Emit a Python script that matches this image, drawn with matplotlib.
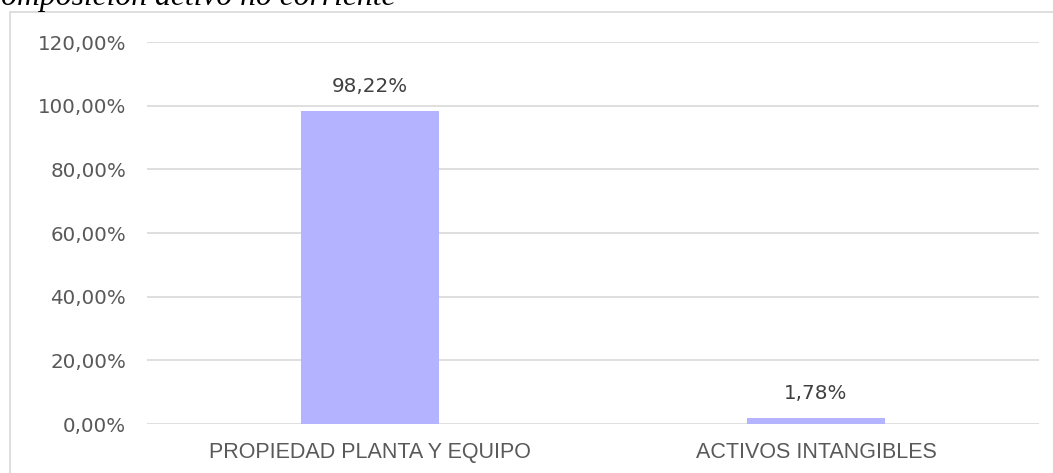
import matplotlib
matplotlib.use("Agg")
import matplotlib.pyplot as plt
from matplotlib.patches import Rectangle

categories = ["PROPIEDAD PLANTA Y EQUIPO", "ACTIVOS INTANGIBLES"]
values = [98.22, 1.78]
yticks = [0, 20, 40, 60, 80, 100, 120]
title = "Composición activo no corriente"

W, H = 1053, 473
fig = plt.figure(figsize=(W / 100, H / 100), dpi=100)
fig.patch.set_facecolor("white")

grid_c = "#D9D9D9"
text_c = "#595959"
bar_c = "#B3B3FF"
num_font = "DejaVu Sans"
cat_font = "Liberation Sans"

# outer chart border (only left and top visible)
fig.patches.append(Rectangle((9.5 / W, -0.5), 2, (1 - 12.5 / H) + 0.5,
                             transform=fig.transFigure, fill=False,
                             edgecolor=grid_c, linewidth=1.2))

ax = fig.add_axes([147 / W, 1 - 424 / H, (1039 - 147) / W, (424 - 42) / H])
x = range(len(categories))
ax.bar(x, values, width=0.31, color=bar_c, zorder=3)
ax.set_xlim(-0.5, len(categories) - 0.5)
ax.set_ylim(0, 120)
ax.set_yticks(yticks)
ax.set_yticklabels([f"{v:.2f}%".replace(".", ",") for v in yticks],
                   fontsize=14.3, color=text_c, family=num_font)
ax.set_xticks(list(x))
ax.set_xticklabels(categories, fontsize=15.5, color=text_c, family=cat_font)
ax.tick_params(axis="y", length=0, pad=15)
ax.tick_params(axis="x", length=0, pad=13)
for s in ax.spines.values():
    s.set_visible(False)
ax.yaxis.grid(True, color=grid_c, linewidth=1.2, zorder=0)
ax.set_axisbelow(True)

for xi, v in zip(x, values):
    ax.annotate(f"{v:.2f}%".replace(".", ","), (xi, v), xytext=(0, 18),
                textcoords="offset points", ha="center", va="center",
                fontsize=14.3, color="#404040", family=num_font)

# title, partly cut off at top-left
fs_t = 22.8
t = fig.text(0, 1 - 5 / H, title, fontsize=fs_t, style="italic",
             family="Liberation Serif", color="black", va="baseline", ha="left")
r = fig.canvas.get_renderer()
tc = fig.text(0, 0, "C", fontsize=fs_t, style="italic", family="Liberation Serif")
wc = tc.get_window_extent(r).width
tc.remove()
t.set_x(-(wc - 1) / W)

fig.savefig("out.png", dpi=100)
